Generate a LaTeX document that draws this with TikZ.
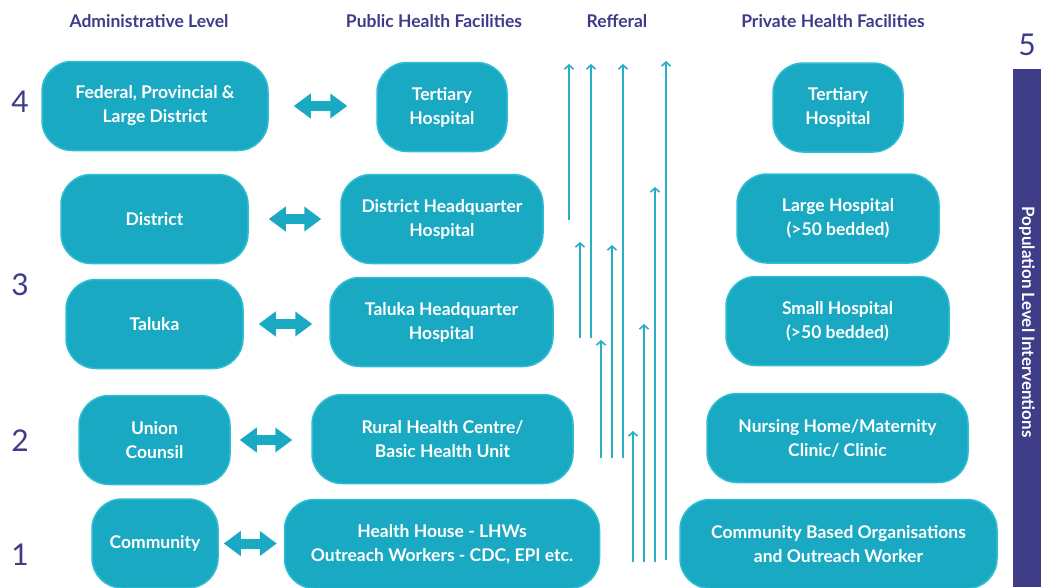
\documentclass[tikz,border=0pt]{standalone}
\usepackage{fontspec}
\setmainfont{Lato}
\usetikzlibrary{arrows.meta}
\definecolor{boxfill}{HTML}{1AA9C2}
\definecolor{boxline}{HTML}{2EBDD3}
\definecolor{indigo}{HTML}{3E3B8B}
\definecolor{refline}{HTML}{2AAEC6}
\definecolor{barcol}{HTML}{3F3C88}
\begin{document}
\begin{tikzpicture}[x=1pt,y=-1pt,
 box/.style={draw=boxline, line width=1.5pt, fill=boxfill, rounded corners=30pt, text=white,
   font=\fontsize{17.5}{24}\selectfont\bfseries, align=center, inner sep=0pt, minimum height=89pt},
 head/.style={text=indigo, font=\fontsize{17.5}{20}\selectfont\bfseries},
 lvl/.style={text=indigo, font=\fontsize{30}{30}\selectfont},
 dbl/.style={draw=boxfill, line width=10pt, {Triangle[width=24pt,length=17pt]}-{Triangle[width=24pt,length=17pt]}},
 refarrow/.style={draw=refline, line width=1.3pt, -{Straight Barb[length=4pt,width=9pt,line width=1.6pt]}}
]
\useasboundingbox[fill=white] (0,0) rectangle (1041,587);

% headers
\node[head] (h1) at (149,21) {Administrative Level};
\node[head] (h2) at (434,21) {Public Health Facilities};
\node[head] (h3) at (617,21) {Refferal};
\node[head] (h4) at (833,21) {Private Health Facilities};

% level numbers
\node[lvl] (l4) at (20,102) {4};
\node[lvl] (l3) at (20,285) {3};
\node[lvl] (l2) at (20,441) {2};
\node[lvl] (l1) at (20,555) {1};
\node[lvl] (l5) at (1027,45) {5};

% right bar
\fill[barcol] (1013,69) rectangle (1041,587);
\node[rotate=-90, text=white, font=\fontsize{17}{18}\selectfont\bfseries] (barlabel) at (1027,322) {Population Level Interventions};

% administrative column
\node[box, minimum width=226pt] (fed) at (155,106) {Federal, Provincial \&\\Large District};
\node[box, minimum width=187pt] (dist) at (154.5,219) {District};
\node[box, minimum width=177pt] (tal) at (154.5,324) {Taluka};
\node[box, minimum width=151pt] (uni) at (154.5,440) {Union\\Counsil};
\node[box, minimum width=126pt] (com) at (155,543.5) {Community};

% public column
\node[box, minimum width=130pt] (ptert) at (442,107) {Tertiary\\Hospital};
\node[box, minimum width=202pt] (dhq) at (442,219) {District Headquarter\\Hospital};
\node[box, minimum width=223pt] (thq) at (441.5,322) {Taluka Headquarter\\Hospital};
\node[box, minimum width=261pt] (rhc) at (442.5,439) {Rural Health Centre/\\Basic Health Unit};
\node[box, minimum width=315pt] (hh) at (442,544) {Health House - LHWs\\Outreach Workers - CDC, EPI etc.};

% private column
\node[box, minimum width=130pt] (vtert) at (838,107.5) {Tertiary\\Hospital};
\node[box, minimum width=202pt] (large) at (838,218.5) {Large Hospital\\(>50 bedded)};
\node[box, minimum width=223pt] (small) at (837.5,321) {Small Hospital\\(>50 bedded)};
\node[box, minimum width=261pt] (nurs) at (837.5,438) {Nursing Home/Maternity\\Clinic/ Clinic};
\node[box, minimum width=317pt] (cbo) at (838.5,544) {Community Based Organisations\\and Outreach Worker};

% double arrows
\draw[dbl, shorten <=25pt, shorten >=29pt] (fed.east) -- (fed.east -| ptert.west);
\draw[dbl, shorten <=20pt, shorten >=19pt] (dist.east) -- (dist.east -| dhq.west);
\draw[dbl, shorten <=15pt, shorten >=17pt] (tal.east) -- (tal.east -| thq.west);
\draw[dbl, shorten <=9pt, shorten >=19pt] (uni.east) -- (uni.east -| rhc.west);
\draw[dbl, shorten <=5pt, shorten >=7pt] (com.east) -- (com.east -| hh.west);

% referral arrows
\coordinate (s1) at (569,220); \coordinate (e1) at (569,64);
\coordinate (s2) at (591,338); \coordinate (e2) at (591,64);
\coordinate (s3) at (623,458); \coordinate (e3) at (623,64);
\coordinate (s4) at (666,560); \coordinate (e4) at (666,61);
\coordinate (s5) at (655,562); \coordinate (e5) at (655,187);
\coordinate (s6) at (580,338); \coordinate (e6) at (580,242);
\coordinate (s7) at (612,458); \coordinate (e7) at (612,245);
\coordinate (s8) at (601,458); \coordinate (e8) at (601,340);
\coordinate (s9) at (644,562); \coordinate (e9) at (644,324);
\coordinate (s10) at (633,562); \coordinate (e10) at (633,431);
\foreach \i in {1,...,10} { \draw[refarrow] (s\i) -- (e\i); }
\end{tikzpicture}
\end{document}
